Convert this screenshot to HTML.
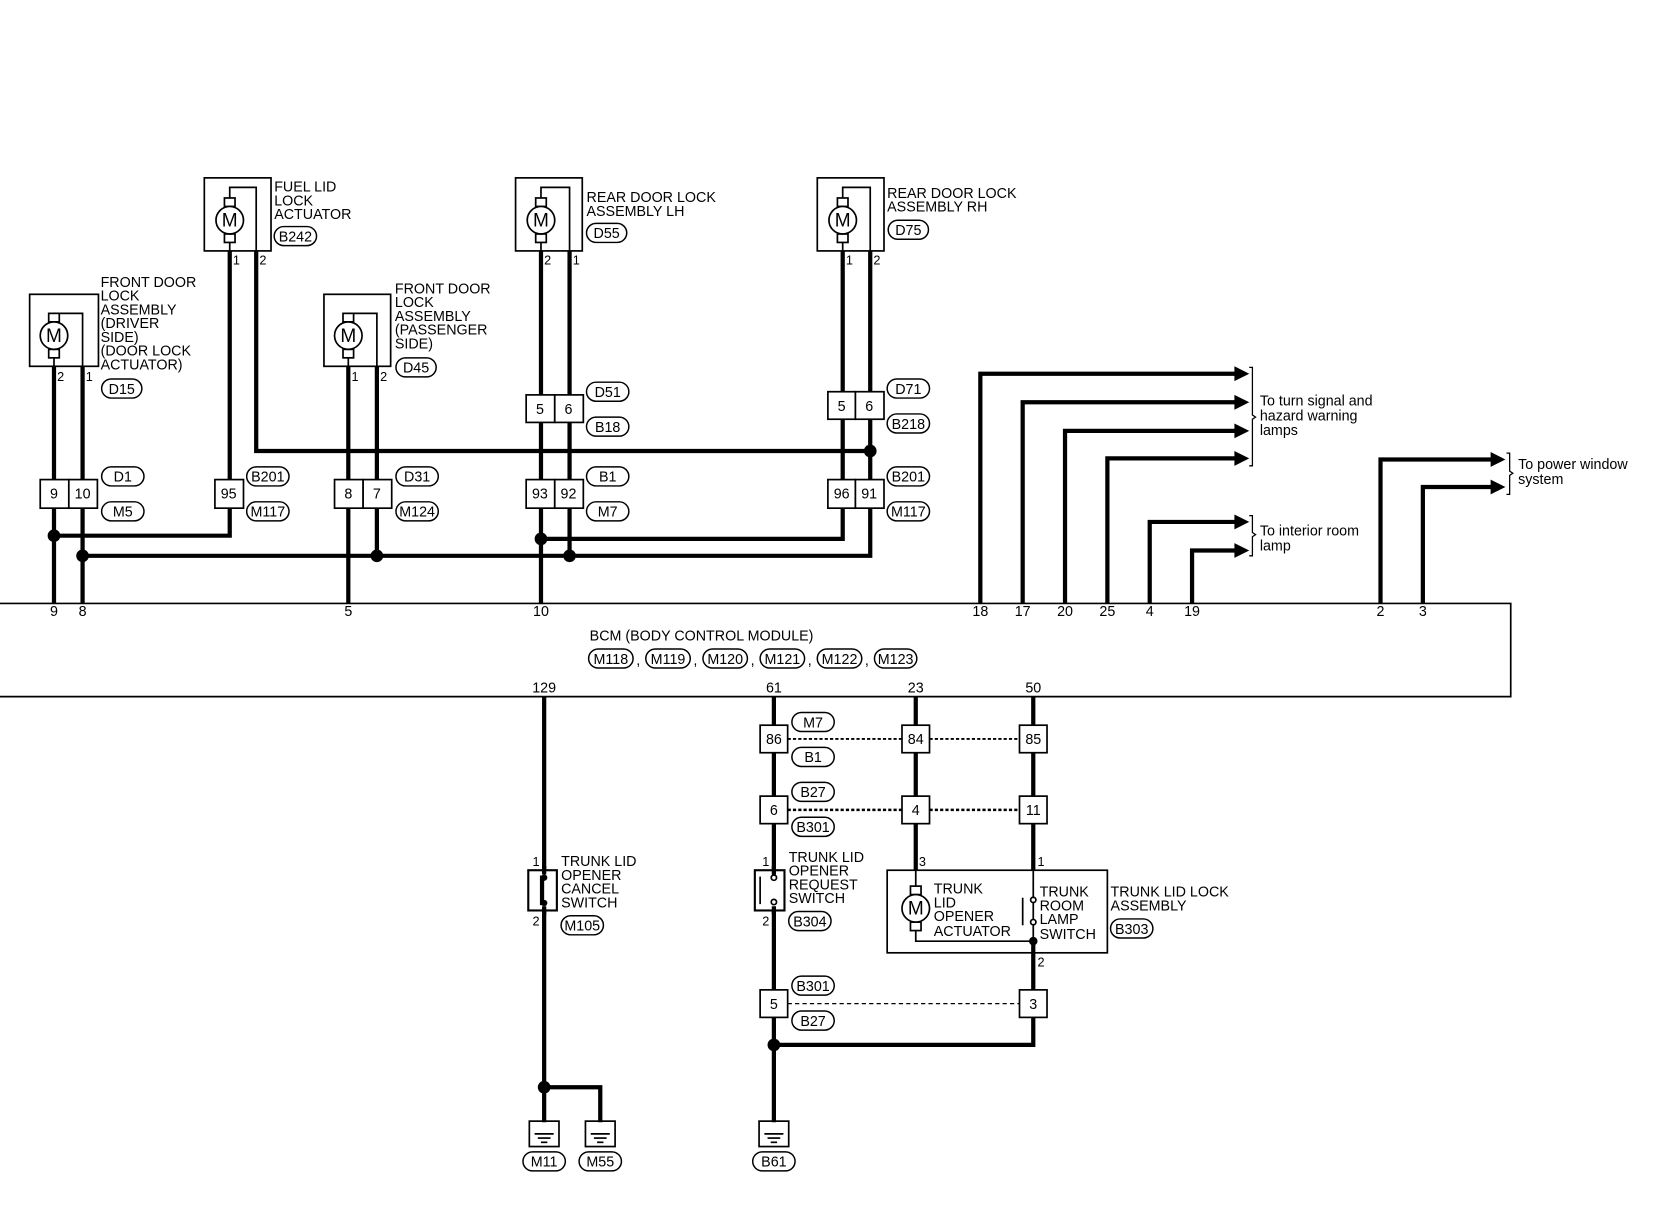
<!DOCTYPE html>
<html><head><meta charset="utf-8"><style>
html,body{margin:0;padding:0;background:#fff;}
svg{display:block;}
text{font-family:"Liberation Sans",Arial,sans-serif;font-size:13.5px;fill:#000;}
.w{stroke:#000;stroke-width:4;fill:none;}
.t{stroke:#000;stroke-width:1.6;fill:none;}
.b{stroke:#000;stroke-width:1.6;fill:#fff;}
.o{stroke:#000;stroke-width:1.4;fill:#fff;}
</style></head><body>
<svg width="1660" height="1216" viewBox="0 0 1568 1148.6" xmlns="http://www.w3.org/2000/svg">
<defs>
<g id="mot">
  <rect x="-5" y="-21" width="10" height="8" class="b"/>
  <rect x="-5" y="13" width="10" height="8" class="b"/>
  <circle cx="0" cy="0" r="13" class="b"/>
  <text x="0" y="6" text-anchor="middle" style="font-size:18px">M</text>
</g>
<g id="gnd">
  <rect x="-14" y="0" width="28" height="24" class="t"/>
  <line x1="-9" y1="12" x2="9" y2="12" class="t"/>
  <line x1="-6" y1="16" x2="6" y2="16" class="t"/>
  <line x1="-3" y1="20" x2="3" y2="20" class="t"/>
</g>
</defs>

<!-- thick wires -->
<g class="w">
<!-- driver -->
<path d="M51 346V570"/><path d="M78 346V570"/>
<!-- fuel -->
<path d="M217 237V506H51"/><path d="M242 237V426H822"/>
<!-- passenger -->
<path d="M329 346V570"/><path d="M356 346V525"/>
<!-- rear LH -->
<path d="M511 237V570"/><path d="M538 237V525"/>
<!-- rear RH -->
<path d="M796 237V509H511"/><path d="M822 237V525H78"/>
<!-- outputs -->
<path d="M926 570V353H1168"/><path d="M966 570V380H1168"/><path d="M1006 570V407H1168"/><path d="M1046 570V433H1168"/>
<path d="M1086 570V493H1168"/><path d="M1126 570V520H1168"/>
<path d="M1304 570V434H1410"/><path d="M1344 570V460H1410"/>
<!-- bottom -->
<path d="M514 658V1060"/><path d="M514 1027H567V1060"/>
<path d="M731 658V1060"/><path d="M731 987H976V900"/>
<path d="M865 658V822"/><path d="M976 658V822"/><path d="M976 889V900"/>
</g>
<!-- arrowheads -->
<g fill="#000">
<path d="M1166 346L1180 353L1166 360Z"/><path d="M1166 373L1180 380L1166 387Z"/>
<path d="M1166 400L1180 407L1166 414Z"/><path d="M1166 426L1180 433L1166 440Z"/>
<path d="M1166 486L1180 493L1166 500Z"/><path d="M1166 513L1180 520L1166 527Z"/>
<path d="M1408 427L1422 434L1408 441Z"/><path d="M1408 453L1422 460L1408 467Z"/>
<!-- dots -->
<circle cx="51" cy="506" r="6"/><circle cx="78" cy="525" r="6"/><circle cx="356" cy="525" r="6"/>
<circle cx="511" cy="509" r="6"/><circle cx="538" cy="525" r="6"/><circle cx="822" cy="426" r="6"/>
<circle cx="514" cy="1027" r="6"/><circle cx="731" cy="987" r="6"/><circle cx="976" cy="889" r="4"/>
</g>
<!-- braces -->
<g class="t" style="stroke-width:1.2">
<path d="M1180 347h3v45l3 2l-3 2v44h-3"/>
<path d="M1180 487h3v16l3 2l-3 2v18h-3"/>
<path d="M1423 428h3v17l3 2l-3 2v18h-3"/>
</g>
<text x="1190" y="383">To turn signal and</text><text x="1190" y="397">hazard warning</text><text x="1190" y="411">lamps</text>
<text x="1190" y="506">To interior room</text><text x="1190" y="520">lamp</text>
<text x="1434" y="443">To power window</text><text x="1434" y="457">system</text>

<!-- component boxes -->
<rect x="28" y="278" width="65" height="68" class="t"/>
<path d="M51 346V330M51 304V296H78V346" class="t"/><use href="#mot" x="51" y="317"/>
<rect x="193" y="168" width="63" height="69" class="t"/>
<path d="M217 237V221M217 195V177H242V237" class="t"/><use href="#mot" x="217" y="208"/>
<rect x="306" y="278" width="63" height="68" class="t"/>
<path d="M329 346V330M329 304V296H356V346" class="t"/><use href="#mot" x="329" y="317"/>
<rect x="487" y="168" width="63" height="69" class="t"/>
<path d="M511 237V221M511 195V177H538V237" class="t"/><use href="#mot" x="511" y="208"/>
<rect x="772" y="168" width="63" height="69" class="t"/>
<path d="M796 237V221M796 195V177H822V237" class="t"/><use href="#mot" x="796" y="208"/>

<text x="95" y="271">FRONT DOOR</text><text x="95" y="284">LOCK</text><text x="95" y="297">ASSEMBLY</text><text x="95" y="310">(DRIVER</text><text x="95" y="323"> SIDE)</text><text x="95" y="336">(DOOR LOCK</text><text x="95" y="349"> ACTUATOR)</text>
<text x="54" y="360" style="font-size:12px">2</text><text x="81" y="360" style="font-size:12px">1</text>
<text x="259" y="181">FUEL LID</text><text x="259" y="194">LOCK</text><text x="259" y="207">ACTUATOR</text>
<text x="220" y="250" style="font-size:12px">1</text><text x="245" y="250" style="font-size:12px">2</text>
<text x="373" y="277">FRONT DOOR</text><text x="373" y="290">LOCK</text><text x="373" y="303">ASSEMBLY</text><text x="373" y="316">(PASSENGER</text><text x="373" y="329"> SIDE)</text>
<text x="332" y="360" style="font-size:12px">1</text><text x="359" y="360" style="font-size:12px">2</text>
<text x="554" y="191">REAR DOOR LOCK</text><text x="554" y="204">ASSEMBLY LH</text>
<text x="514" y="250" style="font-size:12px">2</text><text x="541" y="250" style="font-size:12px">1</text>
<text x="838" y="187">REAR DOOR LOCK</text><text x="838" y="200">ASSEMBLY RH</text>
<text x="799" y="250" style="font-size:12px">1</text><text x="825" y="250" style="font-size:12px">2</text>

<!-- connectors -->
<g>
<rect x="497" y="373" width="27" height="26" class="b"/><rect x="524" y="373" width="27" height="26" class="b"/>
<text x="510" y="391" text-anchor="middle">5</text><text x="537" y="391" text-anchor="middle">6</text>
<rect x="782" y="370" width="26" height="26" class="b"/><rect x="808" y="370" width="27" height="26" class="b"/>
<text x="795" y="388" text-anchor="middle">5</text><text x="821" y="388" text-anchor="middle">6</text>
<rect x="38" y="453" width="27" height="27" class="b"/><rect x="65" y="453" width="27" height="27" class="b"/>
<text x="51" y="471" text-anchor="middle">9</text><text x="78" y="471" text-anchor="middle">10</text>
<rect x="203" y="453" width="27" height="27" class="b"/><text x="216" y="471" text-anchor="middle">95</text>
<rect x="316" y="453" width="27" height="27" class="b"/><rect x="343" y="453" width="27" height="27" class="b"/>
<text x="329" y="471" text-anchor="middle">8</text><text x="356" y="471" text-anchor="middle">7</text>
<rect x="497" y="453" width="27" height="27" class="b"/><rect x="524" y="453" width="27" height="27" class="b"/>
<text x="510" y="471" text-anchor="middle">93</text><text x="537" y="471" text-anchor="middle">92</text>
<rect x="782" y="453" width="26" height="27" class="b"/><rect x="808" y="453" width="27" height="27" class="b"/>
<text x="795" y="471" text-anchor="middle">96</text><text x="821" y="471" text-anchor="middle">91</text>
</g>

<!-- ovals -->
<g>
<rect x="259" y="214" width="40" height="18" rx="9" class="o"/><text x="279" y="228" text-anchor="middle">B242</text>
<rect x="96" y="358" width="38" height="18" rx="9" class="o"/><text x="115" y="372" text-anchor="middle">D15</text>
<rect x="374" y="338" width="38" height="18" rx="9" class="o"/><text x="393" y="352" text-anchor="middle">D45</text>
<rect x="554" y="211" width="38" height="18" rx="9" class="o"/><text x="573" y="225" text-anchor="middle">D55</text>
<rect x="839" y="208" width="38" height="18" rx="9" class="o"/><text x="858" y="222" text-anchor="middle">D75</text>
<rect x="554" y="361" width="40" height="18" rx="9" class="o"/><text x="574" y="375" text-anchor="middle">D51</text>
<rect x="554" y="394" width="40" height="18" rx="9" class="o"/><text x="574" y="408" text-anchor="middle">B18</text>
<rect x="838" y="358" width="40" height="18" rx="9" class="o"/><text x="858" y="372" text-anchor="middle">D71</text>
<rect x="838" y="391" width="40" height="18" rx="9" class="o"/><text x="858" y="405" text-anchor="middle">B218</text>
<rect x="96" y="441" width="40" height="18" rx="9" class="o"/><text x="116" y="455" text-anchor="middle">D1</text>
<rect x="96" y="474" width="40" height="18" rx="9" class="o"/><text x="116" y="488" text-anchor="middle">M5</text>
<rect x="233" y="441" width="40" height="18" rx="9" class="o"/><text x="253" y="455" text-anchor="middle">B201</text>
<rect x="233" y="474" width="40" height="18" rx="9" class="o"/><text x="253" y="488" text-anchor="middle">M117</text>
<rect x="374" y="441" width="40" height="18" rx="9" class="o"/><text x="394" y="455" text-anchor="middle">D31</text>
<rect x="374" y="474" width="40" height="18" rx="9" class="o"/><text x="394" y="488" text-anchor="middle">M124</text>
<rect x="554" y="441" width="40" height="18" rx="9" class="o"/><text x="574" y="455" text-anchor="middle">B1</text>
<rect x="554" y="474" width="40" height="18" rx="9" class="o"/><text x="574" y="488" text-anchor="middle">M7</text>
<rect x="838" y="441" width="40" height="18" rx="9" class="o"/><text x="858" y="455" text-anchor="middle">B201</text>
<rect x="838" y="474" width="40" height="18" rx="9" class="o"/><text x="858" y="488" text-anchor="middle">M117</text>
</g>

<!-- BCM -->
<path d="M0 570H1427V658H0" class="t"/>
<g style="font-size:12px">
<text x="51" y="582" text-anchor="middle">9</text><text x="78" y="582" text-anchor="middle">8</text>
<text x="329" y="582" text-anchor="middle">5</text><text x="511" y="582" text-anchor="middle">10</text>
<text x="926" y="582" text-anchor="middle">18</text><text x="966" y="582" text-anchor="middle">17</text>
<text x="1006" y="582" text-anchor="middle">20</text><text x="1046" y="582" text-anchor="middle">25</text>
<text x="1086" y="582" text-anchor="middle">4</text><text x="1126" y="582" text-anchor="middle">19</text>
<text x="1304" y="582" text-anchor="middle">2</text><text x="1344" y="582" text-anchor="middle">3</text>
<text x="514" y="654" text-anchor="middle">129</text><text x="731" y="654" text-anchor="middle">61</text>
<text x="865" y="654" text-anchor="middle">23</text><text x="976" y="654" text-anchor="middle">50</text>
</g>
<text x="557" y="605">BCM (BODY CONTROL MODULE)</text>
<g>
<rect x="556" y="613" width="42" height="18" rx="9" class="o"/><text x="577" y="627" text-anchor="middle">M118</text><text x="601" y="628">,</text>
<rect x="610" y="613" width="42" height="18" rx="9" class="o"/><text x="631" y="627" text-anchor="middle">M119</text><text x="655" y="628">,</text>
<rect x="664" y="613" width="42" height="18" rx="9" class="o"/><text x="685" y="627" text-anchor="middle">M120</text><text x="709" y="628">,</text>
<rect x="718" y="613" width="42" height="18" rx="9" class="o"/><text x="739" y="627" text-anchor="middle">M121</text><text x="763" y="628">,</text>
<rect x="772" y="613" width="42" height="18" rx="9" class="o"/><text x="793" y="627" text-anchor="middle">M122</text><text x="817" y="628">,</text>
<rect x="826" y="613" width="40" height="18" rx="9" class="o"/><text x="846" y="627" text-anchor="middle">M123</text>
</g>

<!-- dotted shields -->
<g stroke="#000" fill="none">
<path d="M744 698H852M878 698H963" stroke-width="1.8" stroke-dasharray="3 2"/>
<path d="M744 765H852M878 765H963" stroke-width="2.4" stroke-dasharray="3 2"/>
<path d="M744 948H963" stroke-width="1.2" stroke-dasharray="4 3"/>
</g>
<!-- lower connectors -->
<rect x="718" y="685" width="26" height="26" class="b"/><text x="731" y="703" text-anchor="middle">86</text>
<rect x="852" y="685" width="26" height="26" class="b"/><text x="865" y="703" text-anchor="middle">84</text>
<rect x="963" y="685" width="26" height="26" class="b"/><text x="976" y="703" text-anchor="middle">85</text>
<rect x="718" y="752" width="26" height="26" class="b"/><text x="731" y="770" text-anchor="middle">6</text>
<rect x="852" y="752" width="26" height="26" class="b"/><text x="865" y="770" text-anchor="middle">4</text>
<rect x="963" y="752" width="26" height="26" class="b"/><text x="976" y="770" text-anchor="middle">11</text>
<rect x="718" y="935" width="26" height="26" class="b"/><text x="731" y="953" text-anchor="middle">5</text>
<rect x="963" y="935" width="26" height="26" class="b"/><text x="976" y="953" text-anchor="middle">3</text>
<g>
<rect x="748" y="673" width="40" height="18" rx="9" class="o"/><text x="768" y="687" text-anchor="middle">M7</text>
<rect x="748" y="706" width="40" height="18" rx="9" class="o"/><text x="768" y="720" text-anchor="middle">B1</text>
<rect x="748" y="739" width="40" height="18" rx="9" class="o"/><text x="768" y="753" text-anchor="middle">B27</text>
<rect x="748" y="772" width="40" height="18" rx="9" class="o"/><text x="768" y="786" text-anchor="middle">B301</text>
<rect x="748" y="922" width="40" height="18" rx="9" class="o"/><text x="768" y="936" text-anchor="middle">B301</text>
<rect x="748" y="955" width="40" height="18" rx="9" class="o"/><text x="768" y="969" text-anchor="middle">B27</text>
<rect x="530" y="865" width="40" height="18" rx="9" class="o"/><text x="550" y="879" text-anchor="middle">M105</text>
<rect x="745" y="861" width="40" height="18" rx="9" class="o"/><text x="765" y="875" text-anchor="middle">B304</text>
<rect x="1049" y="868" width="40" height="18" rx="9" class="o"/><text x="1069" y="882" text-anchor="middle">B303</text>
<rect x="494" y="1088" width="40" height="18" rx="9" class="o"/><text x="514" y="1102" text-anchor="middle">M11</text>
<rect x="547" y="1088" width="40" height="18" rx="9" class="o"/><text x="567" y="1102" text-anchor="middle">M55</text>
<rect x="711" y="1088" width="40" height="18" rx="9" class="o"/><text x="731" y="1102" text-anchor="middle">B61</text>
</g>
<use href="#gnd" x="514" y="1059"/><use href="#gnd" x="567" y="1059"/><use href="#gnd" x="731" y="1059"/>

<!-- cancel switch -->
<rect x="499" y="822" width="27" height="38" class="b" style="stroke-width:2"/>
<path d="M514 818V826M514 856V864" class="w"/>
<path d="M512 827V855" stroke="#000" stroke-width="4"/>
<circle cx="514" cy="829" r="3"/><circle cx="514" cy="853" r="3"/>
<text x="503" y="818" style="font-size:12px">1</text><text x="503" y="874" style="font-size:12px">2</text>
<text x="530" y="818">TRUNK LID</text><text x="530" y="831">OPENER</text><text x="530" y="844">CANCEL</text><text x="530" y="857">SWITCH</text>
<!-- request switch -->
<rect x="713" y="822" width="28" height="38" class="b" style="stroke-width:2"/>
<path d="M731 818V826M731 856V864" class="w"/>
<line x1="718" y1="828" x2="718" y2="854" class="t"/>
<circle cx="731" cy="829" r="2.5" class="b"/><circle cx="731" cy="852" r="2.5" class="b"/>
<text x="720" y="818" style="font-size:12px">1</text><text x="720" y="874" style="font-size:12px">2</text>
<text x="745" y="814">TRUNK LID</text><text x="745" y="827">OPENER</text><text x="745" y="840">REQUEST</text><text x="745" y="853">SWITCH</text>
<!-- lock assembly -->
<rect x="838" y="822" width="208" height="78" class="t"/>
<path d="M865 822V838M865 878V889H976V822" class="t"/>
<use href="#mot" x="865" y="858"/>
<line x1="966" y1="848" x2="966" y2="874" class="t"/>
<circle cx="976" cy="850" r="2.5" class="b"/><circle cx="976" cy="871" r="2.5" class="b"/>
<text x="868" y="818" style="font-size:12px">3</text><text x="980" y="818" style="font-size:12px">1</text><text x="980" y="913" style="font-size:12px">2</text>
<text x="882" y="844">TRUNK</text><text x="882" y="857">LID</text><text x="882" y="870">OPENER</text><text x="882" y="884">ACTUATOR</text>
<text x="982" y="847">TRUNK</text><text x="982" y="860">ROOM</text><text x="982" y="873">LAMP</text><text x="982" y="887">SWITCH</text>
<text x="1049" y="847">TRUNK LID LOCK</text><text x="1049" y="860">ASSEMBLY</text>
</svg>
</body></html>
